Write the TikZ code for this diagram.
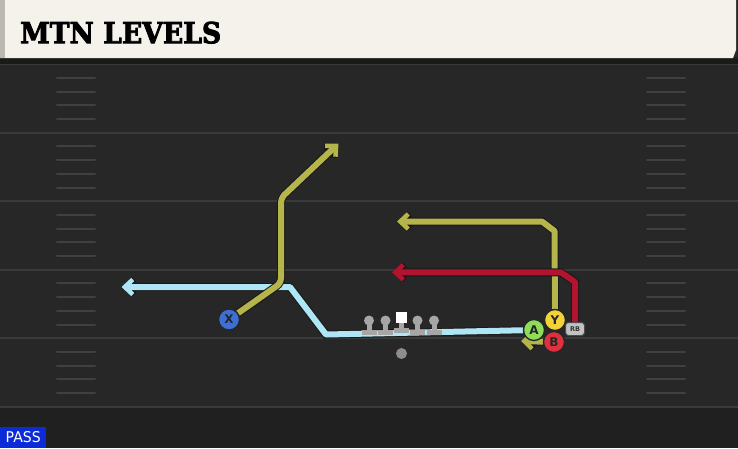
\documentclass[tikz,border=0pt]{standalone}
\usepackage{fontspec}
\usetikzlibrary{arrows.meta}
\newfontfamily\titlefont[FakeBold=3]{DejaVu Serif}
\newfontfamily\labelfont{DejaVu Sans}
\definecolor{field}{HTML}{272727}
\definecolor{fieldlow}{HTML}{202020}
\definecolor{yardc}{HTML}{3A3A3A}
\definecolor{hashc}{HTML}{404040}
\definecolor{cream}{HTML}{F5F2EC}
\definecolor{creamedge}{HTML}{B9B9B2}
\definecolor{shadowc}{HTML}{1A1A1A}
\definecolor{olivec}{HTML}{B6B54B}
\definecolor{redc}{HTML}{B0142F}
\definecolor{skyc}{HTML}{AEE6F5}
\definecolor{xblue}{HTML}{3D6FD6}
\definecolor{agreen}{HTML}{8EDC5A}
\definecolor{yyellow}{HTML}{F4D23A}
\definecolor{bred}{HTML}{E0303F}
\definecolor{rbgray}{HTML}{C2C2C2}
\definecolor{linec}{HTML}{A6A6A6}
\definecolor{passblue}{HTML}{0B2BD9}
\pgfdeclarelayer{back}
\pgfdeclarelayer{routes}
\pgfsetlayers{back,routes,main}
\tikzset{
  yard/.style={draw=yardc, line width=2.2pt},
  hashmark/.style={draw=hashc, line width=2pt, line cap=round},
  route/.style={draw=#1, line width=6pt, line join=round,
    -{Straight Barb[line width=4.5pt,length=8pt,width=15pt]},
    preaction={draw=black!90, line width=8pt,
      -{Straight Barb[line width=6.5pt,length=8pt,width=15pt]}}},
  player/.style={circle, minimum size=21pt, inner sep=0pt, draw=black!85,
    line width=1.3pt, fill=#1, text=black!85, font=\labelfont\bfseries\fontsize{12}{12}\selectfont},
  rbbox/.style={rectangle, rounded corners=3pt, minimum width=19pt, minimum height=13pt,
    inner sep=0pt, fill=rbgray, draw=black!70, line width=1pt, text=black!80,
    font=\labelfont\bfseries\fontsize{6.5}{6.5}\selectfont},
  lhead/.style={circle, minimum size=10pt, inner sep=0pt, fill=linec},
  csq/.style={rectangle, minimum size=11pt, inner sep=0pt, fill=white},
  qbdot/.style={circle, minimum size=11pt, inner sep=0pt, fill=linec!85!black},
}
\begin{document}
\begin{tikzpicture}[x=1pt,y=-1pt]
\useasboundingbox (0,0) rectangle (738,448);
\begin{pgfonlayer}{back}
\fill[field] (0,0) rectangle (738,448);
\fill[fieldlow] (0,407) rectangle (738,448);
\foreach \y in {64.2,132.7,201.2,269.7,338.2,406.7}
  \draw[yard] (0,\y) -- (738,\y);
\foreach \y in {64.2,132.7,201.2,269.7,338.2}
  \foreach \j in {1,2,3,4} {
    \draw[hashmark] (57,{\y+13.7*\j}) -- (95,{\y+13.7*\j});
    \draw[hashmark] (647,{\y+13.7*\j}) -- (685,{\y+13.7*\j});
  }
\fill[shadowc] (0,58) rectangle (738,64);
\fill[cream] (0,0) -- (736,0) -- (736,50) -- (733,58) -- (0,58) -- cycle;
\fill[creamedge] (0,0) rectangle (5,58);
\end{pgfonlayer}
\node[anchor=north west, inner sep=0pt] (title) at (20,21.5)
  {\resizebox{201pt}{21.5pt}{\titlefont\bfseries MTN LEVELS}};
% players
\node[player=xblue] (X) at (229,319.5) {X};
\node[player=agreen] (A) at (534,330) {A};
\node[player=yyellow] (Y) at (555,320) {Y};
\node[player=bred] (B) at (554,342) {B};
\node[rbbox] (RB) at (575,329) {RB};
% line
\foreach \n/\x in {lt/369,lg/385.5,rg/417.5,rt/434} {
  \fill[linec] (\x-2.5,320) rectangle (\x+2.5,331);
  \fill[linec] (\x-7.5,329.5) rectangle (\x+7.5,335);
  \node[lhead] (\n) at (\x,320.5) {};
}
\fill[linec] (398.5,318) rectangle (403.5,329);
\fill[linec] (393.5,327.5) rectangle (408.5,333);
\node[csq] (C) at (401,317.5) {};
\node[qbdot] (QB) at (401.5,353.5) {};
% route coordinates
\coordinate (xt1) at (281,283);
\coordinate (xt2) at (281,198);
\coordinate (xtip) at (338.5,143.5);
\coordinate (at1) at (326,334.5);
\coordinate (at2) at (290,287);
\coordinate (atip) at (121.5,287);
\coordinate (yt1) at (554.5,231);
\coordinate (yt2) at (542,221.5);
\coordinate (ytip) at (397,221.5);
\coordinate (rt1) at (575,282);
\coordinate (rt2) at (561,272.3);
\coordinate (rtip) at (392,272.3);
\coordinate (btip) at (521,341);
\begin{pgfonlayer}{routes}
\draw[route=skyc] (A) -- (at1) -- (at2) -- (atip);
\draw[route=olivec, rounded corners=5pt] (X) -- (xt1) -- (xt2) -- (xtip);
\draw[route=olivec] (Y) -- (yt1) -- (yt2) -- (ytip);
\draw[route=redc] (RB) -- (rt1) -- (rt2) -- (rtip);
\draw[route=olivec] (B) -- (btip);
\end{pgfonlayer}
% PASS label
\node[anchor=south west, inner sep=0pt, minimum width=46pt, minimum height=20.5pt, fill=passblue] (pass) at (0,448) {};
\node[inner sep=0pt, text=white] (passtxt) at (pass.center)
  {\resizebox{35pt}{11pt}{\labelfont PASS}};
\end{tikzpicture}
\end{document}
